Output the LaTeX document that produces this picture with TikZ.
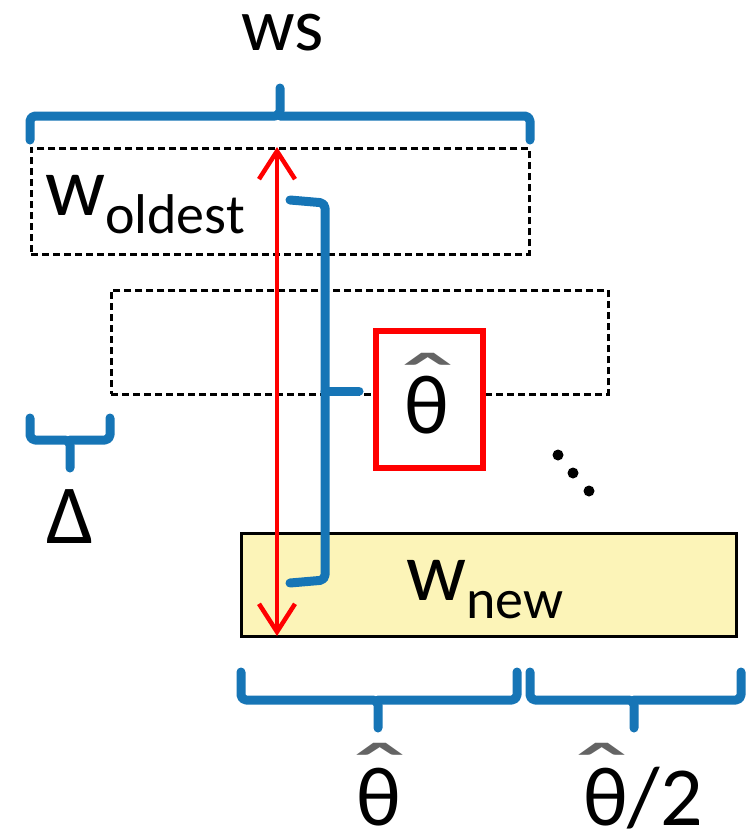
\documentclass[tikz,border=0pt]{standalone}
\usepackage{fontspec}
\setmainfont{Carlito}
\usetikzlibrary{arrows.meta}
\definecolor{braceblue}{RGB}{22,117,182}
\definecolor{markred}{RGB}{255,0,0}
\definecolor{winfill}{RGB}{252,244,184}
\definecolor{hatgray}{RGB}{100,100,100}
\newcommand{\bigsz}{\fontsize{84}{90}\selectfont}
\newcommand{\subsz}{\fontsize{56}{60}\selectfont}
\newcommand{\wide}[1]{\scalebox{1.9}[1.15]{#1}}
\tikzset{
  brace/.style={draw=braceblue, line width=9pt, line cap=round, line join=round, rounded corners=5pt},
  window/.style={draw=black, dash pattern=on 7pt off 4pt, line width=2.8pt, inner sep=0pt, anchor=north west},
  newwindow/.style={draw=black, fill=winfill, line width=2.8pt, inner sep=0pt, anchor=north west},
  estbox/.style={draw=markred, fill=white, line width=6pt, inner sep=0pt, anchor=north west},
  span/.style={draw=markred, line width=4.5pt, {Straight Barb[length=28pt,width=36pt,line width=4.5pt]}-{Straight Barb[length=28pt,width=36pt,line width=4.5pt]}},
  lbl/.style={inner sep=0pt, anchor=base, font=\bigsz},
  hat/.style={inner sep=0pt, anchor=base, text=hatgray, font=\bigsz},
  dot/.style={fill=black}
}
\begin{document}
\begin{tikzpicture}[x=1pt, y=-1pt]
\useasboundingbox (0,0) rectangle (748,830);

% sliding windows
\node[window, minimum width=498pt, minimum height=106pt] (oldest) at (30,147) {};
\node[window, minimum width=497pt, minimum height=104pt] (second) at (110,289) {};
\node[newwindow, minimum width=495pt, minimum height=103pt] (newest) at (240,532) {};
\node[estbox, minimum width=107pt, minimum height=137pt] (est) at (373,328) {};

% window size brace
\draw[brace] (30,140) -- (30,116) -- (280,116) -- (280,88);
\draw[brace] (280,116) -- (530,116) -- (530,140);
\node[lbl, font=\fontsize{75}{80}\selectfont] (ws) at (283,50) {ws};

% shift brace
\draw[brace] (30,418) -- (30,440) -- (70,440) -- (70,468);
\draw[brace] (70,440) -- (110,440) -- (110,418);
\node[lbl] (delta) at (70,543) {Δ};

% bracket between oldest and newest window
\coordinate (bt) at (290,200);
\coordinate (bb) at (290,583);
\coordinate (tick) at (359,391);
\draw[brace] (bt) -- (325,203) -- (325,580) -- (bb);
\draw[brace] (325,391) -- (tick);

% span of the red arrow
\coordinate (spantop) at (277,147);
\coordinate (spanbot) at (277,636);
\draw[span] (spantop) -- (spanbot);

% bottom braces
\draw[brace] (241,672) -- (241,700) -- (378,700) -- (378,728);
\draw[brace] (378,700) -- (517,700) -- (517,672);
\draw[brace] (530,672) -- (530,700) -- (634,700) -- (634,728);
\draw[brace] (634,700) -- (741,700) -- (741,672);

% labels
\node[inner sep=0pt, anchor=base west] (wold) at (45,215)
  {\bigsz w\raisebox{-18pt}{\subsz oldest}};
\node[inner sep=0pt, anchor=base west] (wnew) at (406,600)
  {\bigsz w\raisebox{-18pt}{\subsz new}};

\node[lbl] (th) at (427,433) {θ};
\node[hat] (thhat) at (428,418) {\wide{ˆ}};
\node[lbl] (thb) at (379,825) {θ};
\node[hat] (thbhat) at (380,808) {\wide{ˆ}};
\node[lbl, anchor=base west] (thh) at (583,825) {θ/2};
\node[hat] (thhhat) at (602,808) {\wide{ˆ}};

% continuation dots
\fill[dot] (558,455) circle (5.5pt);
\fill[dot] (573,473) circle (5.5pt);
\fill[dot] (589,491) circle (5.5pt);
\end{tikzpicture}
\end{document}
